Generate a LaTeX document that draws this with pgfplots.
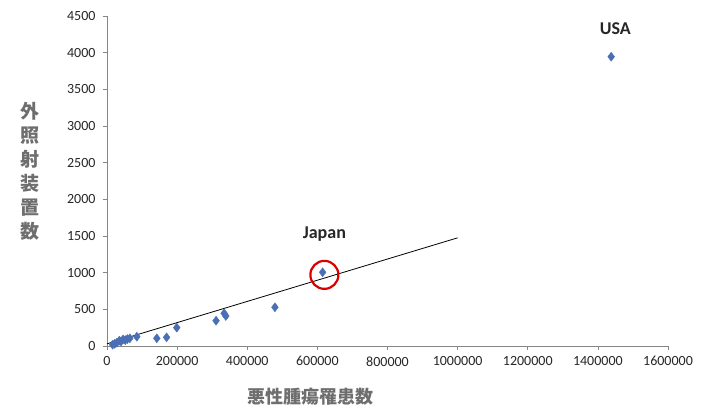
\documentclass[border=0pt]{standalone}
\usepackage{pgfplots}
\pgfplotsset{compat=1.18}
\usepackage{fontspec}
\setmainfont{Carlito}
\newfontfamily\cjk{Noto Sans CJK JP}
\definecolor{ptblue}{RGB}{74,111,181}
\definecolor{axgray}{RGB}{134,134,134}
\definecolor{lblgray}{RGB}{110,110,110}
\begin{document}
\begin{tikzpicture}
\begin{axis}[
  at={(0,0)}, anchor=south west,
  scale only axis, width=561pt, height=330pt,
  xmin=0, xmax=1600000, ymin=0, ymax=4500,
  axis x line*=bottom, axis y line*=left,
  axis line style={axgray, line width=0.6pt},
  xtick={0,200000,...,1600000}, ytick={0,500,...,4500},
  tick style={axgray, line width=0.6pt},
  major tick length=4pt,
  tick align=outside,
  scaled x ticks=false, scaled y ticks=false,
  xticklabel style={/pgf/number format/fixed, /pgf/number format/1000 sep={}, font=\fontsize{14}{14}\selectfont, text=black!85, yshift=-3pt},
  yticklabel style={/pgf/number format/fixed, /pgf/number format/1000 sep={}, font=\fontsize{14}{14}\selectfont, text=black!85, xshift=-4pt},
  /pgf/number format/assume math mode=true,
  clip=false,
]
\addplot[only marks, mark=diamond*, mark size=4.5pt, color=ptblue] coordinates {
  (1438000,3945)
  (615000,1005)
  (479000,528)
  (339000,409)
  (334000,446)
  (311000,345)
  (199000,250)
  (170000,118)
  (142000,105)
  (85000,127)
  (65000,105)
  (58000,95)
  (52000,80)
  (46000,90)
  (40000,62)
  (35000,72)
  (28000,45)
  (22000,30)
  (16000,18)
};
\addplot[black, line width=0.8pt] coordinates {(0,30) (1000000,1475)};
\draw[red!85!black, line width=2.2pt] (axis cs:620000,970) circle[radius=14pt];
\node[font=\bfseries\fontsize{18}{18}\selectfont, text=black!85] at (axis cs:620000,1520) {Japan};
\node[font=\bfseries\fontsize{18}{18}\selectfont, text=black!85] at (axis cs:1450000,4330) {USA};
\end{axis}
\node[font=\cjk\bfseries\fontsize{19}{24}\selectfont, text=lblgray, align=center] at (-77pt,175pt) {外\\照\\射\\装\\置\\数};
\node[font=\cjk\bfseries\fontsize{18}{18}\selectfont, text=lblgray] at (203pt,-51pt) {悪性腫瘍罹患数};
\pgfresetboundingbox
\path[use as bounding box] (-107pt,-63pt) rectangle (594pt,346pt);
\end{tikzpicture}
\end{document}
